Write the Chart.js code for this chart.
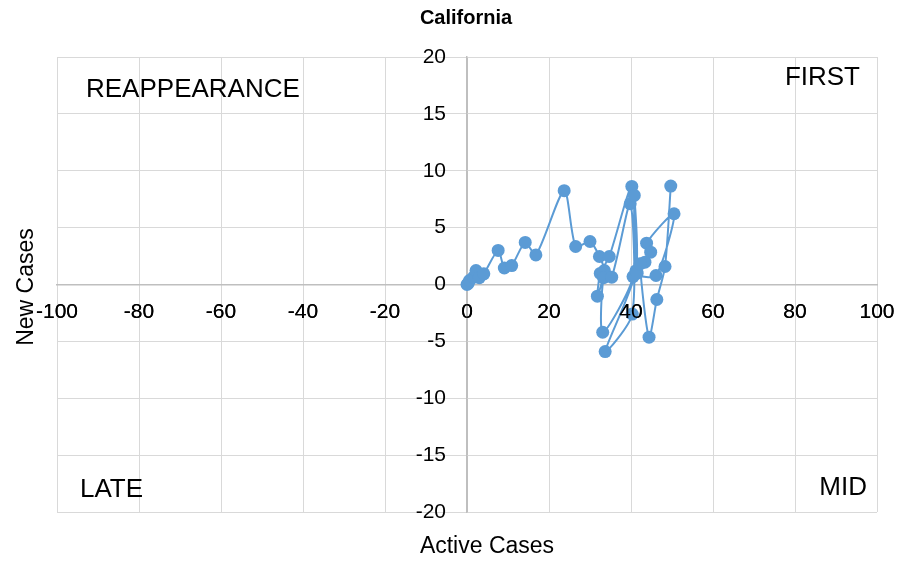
<!DOCTYPE html>
<html>
<head>
<meta charset="utf-8">
<script src="https://cdn.jsdelivr.net/npm/chart.js@4/dist/chart.umd.min.js"></script>
<style>
  html, body { margin: 0; padding: 0; background: #fff; }
  #wrap { width: 919px; height: 563px; }
</style>
</head>
<body>
<div id="wrap"><canvas id="chart"></canvas></div>
<script>
// California - active vs new cases
const chartTitle = 'California';
const xTitle = 'Active Cases';
const yTitle = 'New Cases';

const activeCases = [0, 0.3, 0.6, 1.6, 2.2, 3.0, 4.1, 7.6, 9.1, 10.9, 14.2, 16.8, 23.7, 26.5, 30.0,
    32.3, 33.5, 31.8, 32.5, 34.7, 40.2, 40.5, 33.1, 33.3, 35.3, 39.8, 40.3, 33.7, 41.2, 40.8,
    41.5, 46.1, 50.5, 43.8, 44.8, 43.4, 42.2, 44.4, 46.3, 48.3, 49.7];
const newCases = [0, 0.1, 0.35, 0.64, 1.23, 0.6, 0.94, 3.0, 1.45, 1.66, 3.7, 2.6, 8.25, 3.34, 3.78,
    2.46, 1.23, -1.03, 0.97, 2.46, 8.62, 0.7, -4.2, 0.6, 0.64, 7.1, -2.6, -5.9, 1.2, 7.83,
    1.0, 0.79, 6.22, 3.63, 2.84, 1.96, 1.82, -4.63, -1.32, 1.58, 8.65];

const quadrantNames = ['REAPPEARANCE', 'FIRST', 'LATE', 'MID'];

const points = activeCases.map((x, i) => ({ x: x, y: newCases[i] }));

const FONT = '"Liberation Sans", Arial, sans-serif';

// tick labels sit on top of the markers, like in Excel
const labelsOnTop = {
    id: 'labelsOnTop',
    afterDatasetsDraw(chart) {
        const ctx = chart.ctx;
        chart.scales.x.drawLabels(chart.chartArea);

        // y labels: right aligned, left of the x = 0 axis
        const ys = chart.scales.y;
        const x0 = chart.scales.x.getPixelForValue(0);
        ctx.save();
        ctx.font = '21px ' + FONT;
        ctx.fillStyle = '#000';
        ctx.textAlign = 'right';
        ctx.textBaseline = 'middle';
        ys.ticks.forEach(t => {
            ctx.fillText(String(t.value), x0 - 21, ys.getPixelForValue(t.value));
        });
        ctx.restore();
    }
};

// titles + quadrant names
const textPlugin = {
    id: 'texts',
    afterDraw(chart) {
        const ctx = chart.ctx;
        const a = chart.chartArea;
        ctx.save();
        ctx.fillStyle = '#000';
        ctx.textBaseline = 'middle';

        ctx.font = 'bold 20px ' + FONT;
        ctx.textAlign = 'center';
        ctx.fillText(chartTitle, 466, 18);

        ctx.font = '23px ' + FONT;
        ctx.fillText(xTitle, 487, 547);
        ctx.save();
        ctx.translate(27, 287);
        ctx.rotate(-Math.PI / 2);
        ctx.fillText(yTitle, 0, 0);
        ctx.restore();

        ctx.font = '26px ' + FONT;
        ctx.textAlign = 'left';
        ctx.fillText(quadrantNames[0], a.left + 29, a.top + 33);
        ctx.fillText(quadrantNames[2], a.left + 23, a.bottom - 22);
        ctx.textAlign = 'right';
        ctx.fillText(quadrantNames[1], a.right - 17, a.top + 21);
        ctx.fillText(quadrantNames[3], a.right - 10, a.bottom - 24);
        ctx.restore();
    }
};

const gridColor = ctx => ctx.tick && ctx.tick.value === 0 ? '#bfbfbf' : '#d9d9d9';

new Chart(document.getElementById('chart'), {
    type: 'scatter',
    data: {
        datasets: [{
            label: 'California',
            data: points,
            showLine: true,
            borderColor: '#5b9bd5',
            backgroundColor: '#5b9bd5',
            borderWidth: 2,
            tension: 0.25,
            pointRadius: 6.5,
            pointHoverRadius: 6.5,
            pointBorderWidth: 0
        }]
    },
    options: {
        responsive: true,
        maintainAspectRatio: false,
        animation: false,
        layout: { padding: { left: 57, right: 42, top: 57, bottom: 51 } },
        plugins: {
            legend: { display: false },
            title: { display: false },
            tooltip: { enabled: false }
        },
        scales: {
            x: {
                type: 'linear',
                min: -100,
                max: 100,
                position: { y: 0 },
                ticks: {
                    stepSize: 20,
                    color: '#000',
                    padding: 15,
                    maxRotation: 0,
                    font: { family: FONT, size: 21 }
                },
                grid: { color: gridColor, drawTicks: false, lineWidth: 1 },
                border: { color: '#bfbfbf', width: 1.5 }
            },
            y: {
                type: 'linear',
                min: -20,
                max: 20,
                position: { x: 0 },
                ticks: {
                    stepSize: 5,
                    display: false
                },
                grid: { color: gridColor, drawTicks: false, lineWidth: 1 },
                border: { color: '#bfbfbf', width: 1.5 }
            }
        }
    },
    plugins: [labelsOnTop, textPlugin]
});
</script>
</body>
</html>
